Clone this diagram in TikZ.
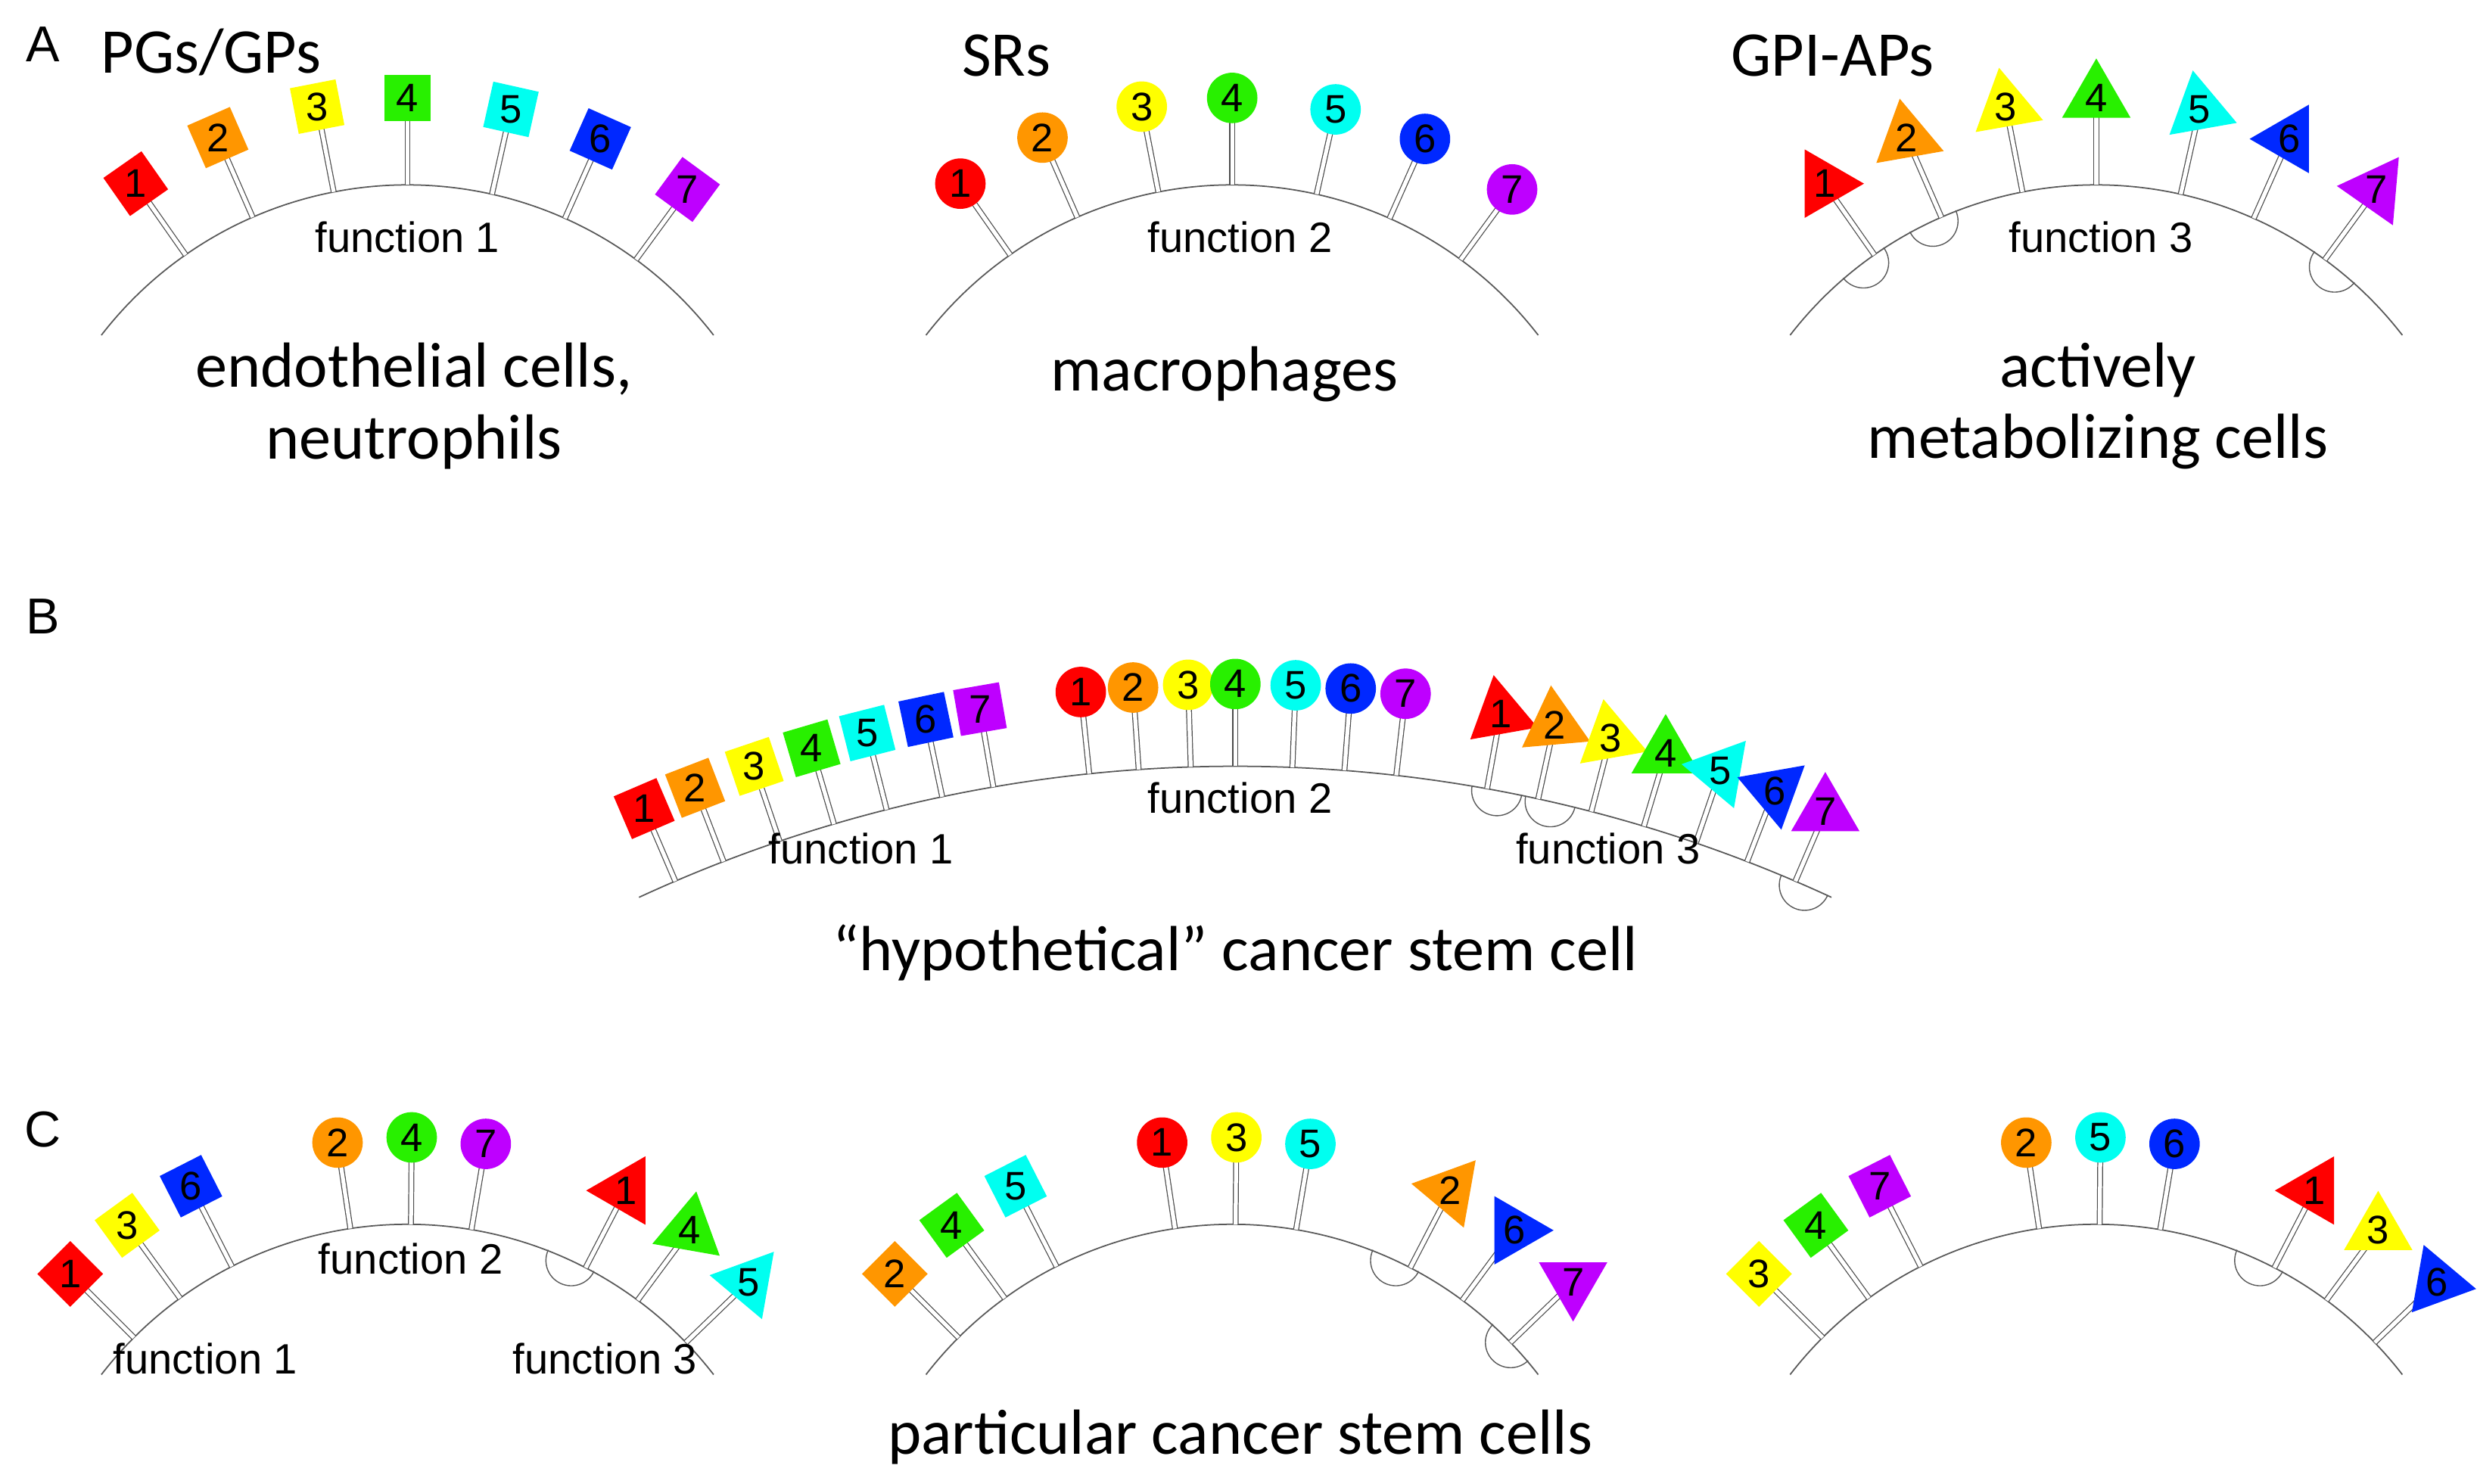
\documentclass[tikz,border=0pt]{standalone}
\usepackage{fontspec}
\setmainfont{Carlito}
\newfontfamily\arial{Liberation Sans}
\definecolor{cR}{RGB}{255,0,0}
\definecolor{cO}{RGB}{255,150,0}
\definecolor{cY}{RGB}{255,255,0}
\definecolor{cG}{RGB}{40,240,0}
\definecolor{cC}{RGB}{0,255,240}
\definecolor{cB}{RGB}{0,40,255}
\definecolor{cP}{RGB}{190,0,255}
\tikzset{
 memb/.style={draw=black!65,line width=0.5pt},
 stem/.style={draw=black!70,line width=0.35pt,double=white,double distance=1.5pt},
 sqs/.style={minimum size=17.5pt,inner sep=0pt},
 circ/.style={circle,minimum size=19pt,inner sep=0pt},
 num/.style={font=\arial\fontsize{15}{15}\selectfont,inner sep=0pt},
 fn/.style={font=\arial\fontsize{16}{16}\selectfont},
 big/.style={font=\fontsize{24}{27}\selectfont,align=center},
 let/.style={font=\arial\fontsize{19}{19}\selectfont},
}
\newcommand\headsq[6]{\node[sqs,fill=#3,rotate=#6-90] (h#4) at (#1,#2) {}; \node[num] at (#1,#2) {#4};}
\newcommand\headci[6]{\node[circ,fill=#3] (h#4) at (#1,#2) {}; \node[num] at (#1,#2) {#4};}
\newcommand\headtr[6]{\fill[#3] ({#1+25*cos(#5)},{#2+25*sin(#5)}) -- ({#1+25*cos(#5+120)},{#2+25*sin(#5+120)}) -- ({#1+25*cos(#5+240)},{#2+25*sin(#5+240)}) -- cycle; \node[num] at (#1,#2) {#4};}
% #1 cx #2 cy #3 R #4 angle #5 L #6 type #7 color #8 num #9 rot
\newcommand\pin[9]{%
 \pgfmathsetmacro\bx{#1+#3*cos(#4)}\pgfmathsetmacro\by{#2+#3*sin(#4)}%
 \pgfmathsetmacro\hx{#1+(#3+#5)*cos(#4)}\pgfmathsetmacro\hy{#2+(#3+#5)*sin(#4)}%
 \coordinate (b) at (\bx,\by); \coordinate (t) at (\hx,\hy);
 \draw[stem] (b) -- (t);
 \csname head#6\endcsname{\hx}{\hy}{#7}{#8}{#9}{#4}}
% bump: cx cy R angle
\newcommand\bump[4]{%
 \pgfmathsetmacro\sx{#1+#3*cos(#4)+16*cos(#4-90)}\pgfmathsetmacro\sy{#2+#3*sin(#4)+16*sin(#4-90)}%
 \draw[memb,line width=0.4pt] (\sx,\sy) arc[start angle=#4-90,end angle=#4-270,radius=0.334cm];}
\newcommand\cell[2]{\draw[memb] ({#1+245*cos(142.3)},{#2+245*sin(142.3)}) arc[start angle=142.3,end angle=37.7,radius=5.12cm];}
\begin{document}
\begin{tikzpicture}[x=0.0209cm,y=0.0209cm]
\useasboundingbox (0,0) rectangle (1568,-939);
% ---------- A
\node[let] (la) at (27,-28) {A};
\node[big,anchor=west] (pg) at (58,-33) {PGs/GPs};
\node[big,anchor=west] (sr) at (603,-35) {SRs};
\node[big,anchor=west] (gp) at (1090,-35) {GPI-APs};
\cell{258}{-362}
\cell{780}{-362}
\cell{1327}{-362}
\foreach \a/\c/\n in {125/cR/1,113.6/cO/2,101/cY/3,90/cG/4,77.4/cC/5,66/cB/6,53.8/cP/7}
 {\pin{258}{-362}{245}{\a}{55}{sq}{\c}{\n}{0}}
\foreach \a/\c/\n in {125/cR/1,113.6/cO/2,101/cY/3,90/cG/4,77.4/cC/5,66/cB/6,53.8/cP/7}
 {\pin{780}{-362}{245}{\a}{55}{ci}{\c}{\n}{0}}
\bump{1327}{-362}{245}{127}
\bump{1327}{-362}{245}{115}
\bump{1327}{-362}{245}{52}
\foreach \a/\c/\n/\r in {125/cR/1/0,113.6/cO/2/-20,101/cY/3/100,90/cG/4/90,77.4/cC/5/100,66/cB/6/180,53.8/cP/7/175}
 {\pin{1327}{-362}{245}{\a}{55}{tr}{\c}{\n}{\r}}
\node[fn] (f1) at (258,-150) {function 1};
\node[fn] (f2) at (785,-150) {function 2};
\node[fn] (f3) at (1330,-150) {function 3};
\node[big] (t1) at (262,-257) {endothelial cells,\\neutrophils};
\node[big] (t2) at (775,-237) {macrophages};
\node[big] (t3) at (1328,-257) {actively\\metabolizing cells};
% ---------- B
\node[let] (lb) at (27,-390) {B};
\draw[memb] ({782+900*cos(114.8)},{-1385+900*sin(114.8)}) arc[start angle=114.8,end angle=65.2,radius=18.81cm];
\foreach \a/\c/\n in {113.2/cR/1,111.1/cO/2,108.7/cY/3,106.4/cG/4,104.2/cC/5,101.9/cB/6,99.8/cP/7}
 {\pin{782}{-1385}{900}{\a}{50}{sq}{\c}{\n}{0}}
\foreach \a/\c/\n in {95.9/cR/1,93.9/cO/2,91.8/cY/3,90/cG/4,87.7/cC/5,85.6/cB/6,83.5/cP/7}
 {\pin{782}{-1385}{900}{\a}{52}{ci}{\c}{\n}{0}}
\bump{782}{-1385}{900}{79.4}
\bump{782}{-1385}{900}{77.2}
\bump{782}{-1385}{900}{66.4}
\foreach \a/\c/\n/\r in {79.8/cR/1/100,77.7/cO/2/95,75.5/cY/3/100,73.3/cG/4/90,71.1/cC/5/170,68.9/cB/6/160,66.8/cP/7/90}
 {\pin{782}{-1385}{900}{\a}{48}{tr}{\c}{\n}{\r}}
\node[fn] (f4) at (545,-537) {function 1};
\node[fn] (f5) at (785,-505) {function 2};
\node[fn] (f6) at (1018,-537) {function 3};
\node[big] (t4) at (782,-603) {“hypothetical” cancer stem cell};
% ---------- C
\node[let] (lc) at (27,-715) {C};
\cell{258}{-1020}
\cell{780}{-1020}
\cell{1327}{-1020}
% C1
\foreach \a/\c/\n in {135/cR/1,126/cY/3,117/cB/6}
 {\pin{258}{-1020}{245}{\a}{57}{sq}{\c}{\n}{0}}
\foreach \a/\c/\n in {98.5/cO/2,89.5/cG/4,80.5/cP/7}
 {\pin{258}{-1020}{245}{\a}{55}{ci}{\c}{\n}{0}}
\bump{258}{-1020}{245}{65}
\foreach \a/\c/\n/\r in {62.6/cR/1/180,53.5/cG/4/80,44/cC/5/170}
 {\pin{258}{-1020}{245}{\a}{55}{tr}{\c}{\n}{\r}}
\node[fn] (f7) at (130,-860) {function 1};
\node[fn] (f8) at (260,-797) {function 2};
\node[fn] (f9) at (383,-860) {function 3};
% C2
\foreach \a/\c/\n in {135/cO/2,126/cG/4,117/cC/5}
 {\pin{780}{-1020}{245}{\a}{57}{sq}{\c}{\n}{0}}
\foreach \a/\c/\n in {98.5/cR/1,89.5/cY/3,80.5/cC/5}
 {\pin{780}{-1020}{245}{\a}{55}{ci}{\c}{\n}{0}}
\bump{780}{-1020}{245}{65}
\bump{780}{-1020}{245}{44}
\foreach \a/\c/\n/\r in {62.6/cO/2/170,53.5/cB/6/120,44/cP/7/150}
 {\pin{780}{-1020}{245}{\a}{55}{tr}{\c}{\n}{\r}}
% C3
\foreach \a/\c/\n in {135/cY/3,126/cG/4,117/cP/7}
 {\pin{1327}{-1020}{245}{\a}{57}{sq}{\c}{\n}{0}}
\foreach \a/\c/\n in {98.5/cO/2,89.5/cC/5,80.5/cB/6}
 {\pin{1327}{-1020}{245}{\a}{55}{ci}{\c}{\n}{0}}
\bump{1327}{-1020}{245}{65}
\foreach \a/\c/\n/\r in {62.6/cR/1/180,53.5/cY/3/90,44/cB/6/110}
 {\pin{1327}{-1020}{245}{\a}{55}{tr}{\c}{\n}{\r}}
\node[big] (t5) at (785,-910) {particular cancer stem cells};
\end{tikzpicture}
\end{document}
